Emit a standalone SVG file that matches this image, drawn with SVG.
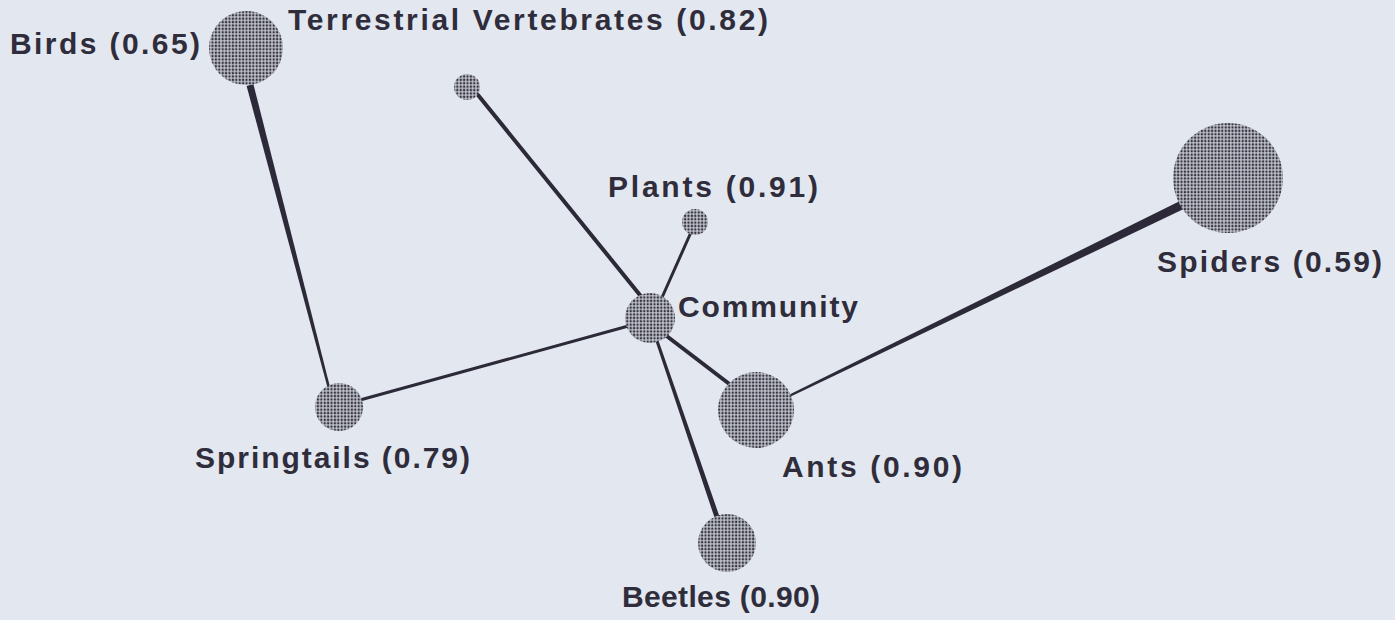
<svg xmlns="http://www.w3.org/2000/svg" width="1395" height="620" viewBox="0 0 1395 620">
<defs>
<pattern id="dots" width="3.4" height="3.4" patternUnits="userSpaceOnUse">
<rect width="3.4" height="3.4" fill="#bfc2cc"/>
<circle cx="1.7" cy="1.7" r="1.2" fill="#35333f"/>
</pattern>
<style>
.node{fill:url(#dots);}
.lbl{font-family:"Liberation Sans",Arial,sans-serif;font-weight:bold;font-size:30px;fill:#2f2d3b;}
.edge{stroke:#2c2a38;stroke-linecap:round;fill:none;}
.wedge{fill:#2c2a38;}
</style>
</defs>
<rect width="1395" height="620" fill="#e3e7ef"/>
<g id="connectors">
<polygon class="wedge" points="246.6,85.9 253.4,84.1 331.2,391.7 328.8,392.3"/>
<line class="edge" x1="478" y1="95" x2="648" y2="305" stroke-width="4"/>
<line class="edge" x1="692" y1="230" x2="660" y2="302" stroke-width="3"/>
<line class="edge" x1="360" y1="400" x2="632" y2="325" stroke-width="3"/>
<line class="edge" x1="664" y1="334" x2="732" y2="386" stroke-width="4"/>
<polygon class="wedge" points="653.6,335.5 656.4,334.5 720.4,519.2 715.6,520.8"/>
<polygon class="wedge" points="784.5,396.9 1186.0,198.0 1190.0,206.0 785.5,399.1"/>
</g>
<g id="birds"><circle class="node" cx="246" cy="48" r="37"/><text class="lbl" x="10" y="54" textLength="190" lengthAdjust="spacing">Birds (0.65)</text></g>
<g id="terrestrial-vertebrates"><circle class="node" cx="467" cy="87" r="13"/><text class="lbl" x="288" y="30" textLength="480" lengthAdjust="spacing">Terrestrial Vertebrates (0.82)</text></g>
<g id="plants"><circle class="node" cx="695" cy="222" r="13"/><text class="lbl" x="608" y="197" textLength="210" lengthAdjust="spacing">Plants (0.91)</text></g>
<g id="community"><circle class="node" cx="650" cy="318" r="25"/><text class="lbl" x="678" y="317" textLength="180" lengthAdjust="spacing">Community</text></g>
<g id="spiders"><circle class="node" cx="1228" cy="178" r="55"/><text class="lbl" x="1157" y="272" textLength="225" lengthAdjust="spacing">Spiders (0.59)</text></g>
<g id="ants"><circle class="node" cx="756" cy="410" r="38"/><text class="lbl" x="782" y="477" textLength="180" lengthAdjust="spacing">Ants (0.90)</text></g>
<g id="springtails"><circle class="node" cx="339" cy="407" r="24"/><text class="lbl" x="195" y="468" textLength="275" lengthAdjust="spacing">Springtails (0.79)</text></g>
<g id="beetles"><circle class="node" cx="727" cy="543" r="29"/><text class="lbl" x="622" y="607" textLength="198" lengthAdjust="spacing">Beetles (0.90)</text></g>
</svg>
